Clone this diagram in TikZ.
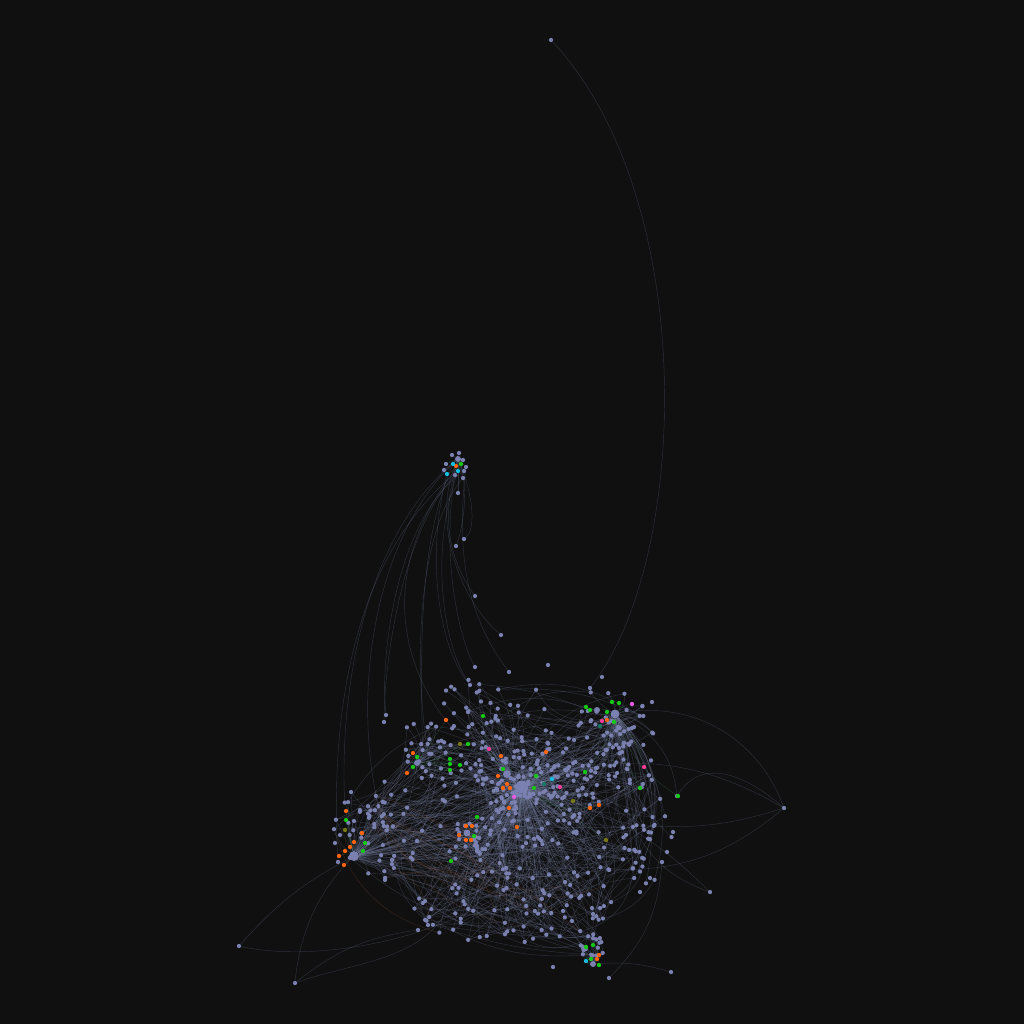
\documentclass[tikz,border=0pt]{standalone}
\usetikzlibrary{calc}
\definecolor{bgc}{RGB}{16,16,16}
\definecolor{nd}{RGB}{122,128,176}
\definecolor{ndor}{RGB}{255,100,10}
\definecolor{ndgr}{RGB}{20,200,20}
\definecolor{ndpk}{RGB}{240,60,150}
\definecolor{ndvi}{RGB}{230,90,230}
\definecolor{ndcy}{RGB}{20,190,225}
\definecolor{ndol}{RGB}{120,120,20}
\definecolor{ndtl}{RGB}{20,120,100}
\definecolor{ed}{RGB}{115,125,160}
\definecolor{edg}{RGB}{60,130,80}
\definecolor{edb}{RGB}{150,90,60}
\pgfdeclarelayer{backg}
\pgfdeclarelayer{edges}
\pgfsetlayers{backg,edges,main}
\tikzset{
  dot/.style={circle,fill=nd,draw=none,inner sep=0pt,minimum size=4.3pt},
  hub/.style={circle,fill=nd,draw=none,inner sep=0pt},
  edge/.style={draw=ed,line width=0.45pt,opacity=0.3},
  edgeg/.style={draw=edg,line width=0.45pt,opacity=0.35},
  edgeb/.style={draw=edb,line width=0.45pt,opacity=0.28}
}
\newcommand\mkclu[7]{%
  \foreach \i in {1,...,#6}{%
    \pgfmathsetmacro\rr{rnd^#7}%
    \pgfmathsetmacro\aa{360*rnd}%
    \node[dot] (#1\i) at ({#2+#4*\rr*cos(\aa)},{#3+#5*\rr*sin(\aa)}) {};
  }}
\newcommand\hubedges[4]{%
  \foreach \i in {1,...,#2}{%
    \pgfmathtruncatemacro\bb{rand*#4}%
    \draw[edge] (#1\i) to[bend left=\bb] (#3);
  }}
\newcommand\crossedges[6]{%
  \foreach \k in {1,...,#5}{%
    \pgfmathtruncatemacro\ii{1+rnd*(#2-0.01)}%
    \pgfmathtruncatemacro\jj{1+rnd*(#4-0.01)}%
    \pgfmathtruncatemacro\bb{rand*#6}%
    \draw[edge] (#1\ii) to[bend left=\bb] (#3\jj);
  }}
\begin{document}
\begin{tikzpicture}[x=1pt,y=-1pt]
\begin{pgfonlayer}{backg}
\fill[bgc] (0,0) rectangle (1024,1024);
\end{pgfonlayer}
\useasboundingbox (0,0) rectangle (1024,1024);

% hubs
\node[hub,minimum size=13pt] (hA) at (522,787) {};
\node[hub,minimum size=8pt] (hA2) at (507,774) {};
\node[hub,minimum size=9pt] (hB) at (615,714) {};
\node[hub,minimum size=6pt] (hB2) at (597,710) {};
\node[hub,minimum size=10pt] (hC) at (354,856) {};
\node[hub,minimum size=7pt] (hD) at (467,833) {};
\node[hub,minimum size=6pt] (hE) at (593,964) {};
\node[hub,minimum size=6pt] (hF) at (458,459) {};
\node[hub,minimum size=6pt] (hG) at (417,763) {};

% random clusters
\pgfmathsetseed{4242}
\mkclu{A}{525}{792}{72}{58}{150}{0.75}
\mkclu{W}{545}{805}{118}{78}{90}{0.5}
\mkclu{T}{492}{708}{55}{32}{35}{0.5}
\mkclu{B}{612}{738}{45}{52}{70}{0.7}
\mkclu{C}{378}{828}{45}{52}{55}{0.6}
\mkclu{G}{430}{748}{30}{35}{30}{0.6}
\mkclu{D}{468}{842}{26}{20}{20}{0.6}
\mkclu{L}{510}{905}{112}{40}{80}{0.5}
\mkclu{R}{645}{832}{28}{55}{28}{0.5}
\mkclu{E}{592}{948}{12}{14}{18}{0.5}

% explicit gray nodes
\foreach \x/\y [count=\n] in {551/40,784/808,239/946,295/983,710/892,671/972,677/796,501/635,475/596,464/539,456/546,458/493,609/978,
  459/453,452/455,446/464,444/470,463/460,466/467,464/471,455/475,463/478,
  475/667,509/672,548/665,470/685,386/715,384/722,590/688,602/677,652/702,
  553/967,572/921,563/911,592/908,600/908,593/914,673/832,667/852,662/862,650/878,640/892,418/930,428/925,392/860,385/880,338/862,335/843,340/835}
  \node[dot] (X\n) at (\x,\y) {};

% coloured nodes
\foreach \x/\y/\c/\h [count=\n] in {446/720/ndor/hG,483/716/ndgr/hA2,460/744/ndol/hG,468/744/ndgr/hG,489/749/ndpk/hA2,
  501/756/ndor/hA2,546/752/ndor/hA,450/759/ndgr/hG,450/764/ndgr/hG,450/770/ndgr/hG,460/765/ndgr/hG,
  503/769/ndgr/hA2,498/776/ndor/hA2,507/784/ndor/hA,503/788/ndor/hA,510/788/ndor/hA,536/776/ndgr/hA,
  534/788/ndgr/hA,544/784/ndtl/hA,552/779/ndcy/hA,560/787/ndpk/hA,514/797/ndvi/hA,509/808/ndor/hA,
  517/827/ndor/hA,573/801/ndol/hA,590/808/ndor/hA,599/805/ndor/hA,585/772/ndgr/hB,644/767/ndpk/hB,
  640/788/ndgr/hB,678/796/ndgr/hB,606/840/ndol/hA,477/817/ndgr/hD,466/826/ndor/hD,472/826/ndor/hD,
  459/835/ndor/hD,466/840/ndor/hD,471/840/ndor/hD,474/836/ndgr/hD,451/861/ndgr/hD,
  612/702/ndgr/hB,619/703/ndgr/hB,632/704/ndvi/hB,586/707/ndgr/hB2,590/710/ndgr/hB2,607/712/ndgr/hB,
  602/721/ndpk/hB,607/720/ndor/hB,614/722/ndgr/hB,600/726/ndtl/hB,
  346/811/ndor/hC,346/820/ndgr/hC,345/830/ndol/hC,362/833/ndor/hC,354/842/ndor/hC,365/843/ndgr/hC,
  350/847/ndor/hC,345/851/ndor/hC,363/851/ndgr/hC,339/856/ndor/hC,344/865/ndor/hC,
  413/753/ndor/hG,417/757/ndgr/hG,413/767/ndgr/hG,407/773/ndor/hG,
  456/466/ndor/hF,461/464/ndgr/hF,453/464/ndcy/hF,458/471/ndcy/hF,447/474/ndcy/hF,
  586/947/ndgr/hE,593/945/ndgr/hE,599/955/ndor/hE,597/959/ndor/hE,591/959/ndgr/hE,586/961/ndcy/hE,599/965/ndgr/hE}
  \node[dot,fill=\c] (K\n) at (\x,\y) {};

\begin{pgfonlayer}{edges}
% coloured node edges
\foreach \x/\y/\c/\h [count=\n] in {446/720/ndor/hG,483/716/ndgr/hA2,460/744/ndol/hG,468/744/ndgr/hG,489/749/ndpk/hA2,
  501/756/ndor/hA2,546/752/ndor/hA,450/759/ndgr/hG,450/764/ndgr/hG,450/770/ndgr/hG,460/765/ndgr/hG,
  503/769/ndgr/hA2,498/776/ndor/hA2,507/784/ndor/hA,503/788/ndor/hA,510/788/ndor/hA,536/776/ndgr/hA,
  534/788/ndgr/hA,544/784/ndtl/hA,552/779/ndcy/hA,560/787/ndpk/hA,514/797/ndvi/hA,509/808/ndor/hA,
  517/827/ndor/hA,573/801/ndol/hA,590/808/ndor/hA,599/805/ndor/hA,585/772/ndgr/hB,644/767/ndpk/hB,
  640/788/ndgr/hB,678/796/ndgr/hB,606/840/ndol/hA,477/817/ndgr/hD,466/826/ndor/hD,472/826/ndor/hD,
  459/835/ndor/hD,466/840/ndor/hD,471/840/ndor/hD,474/836/ndgr/hD,451/861/ndgr/hD,
  612/702/ndgr/hB,619/703/ndgr/hB,632/704/ndvi/hB,586/707/ndgr/hB2,590/710/ndgr/hB2,607/712/ndgr/hB,
  602/721/ndpk/hB,607/720/ndor/hB,614/722/ndgr/hB,600/726/ndtl/hB,
  346/811/ndor/hC,346/820/ndgr/hC,345/830/ndol/hC,362/833/ndor/hC,354/842/ndor/hC,365/843/ndgr/hC,
  350/847/ndor/hC,345/851/ndor/hC,363/851/ndgr/hC,339/856/ndor/hC,344/865/ndor/hC,
  413/753/ndor/hG,417/757/ndgr/hG,413/767/ndgr/hG,407/773/ndor/hG,
  456/466/ndor/hF,461/464/ndgr/hF,453/464/ndcy/hF,458/471/ndcy/hF,447/474/ndcy/hF,
  586/947/ndgr/hE,593/945/ndgr/hE,599/955/ndor/hE,597/959/ndor/hE,591/959/ndgr/hE,586/961/ndcy/hE,599/965/ndgr/hE}
  {\pgfmathtruncatemacro\bb{rand*30}\draw[edgeg] (K\n) to[bend left=\bb] (\h);}

% hub edges
\hubedges{A}{150}{hA}{25}
\hubedges{W}{90}{hA}{35}
\hubedges{T}{35}{hA2}{30}
\hubedges{B}{70}{hB}{30}
\hubedges{C}{55}{hC}{30}
\hubedges{G}{30}{hG}{30}
\hubedges{D}{20}{hD}{30}
\hubedges{L}{80}{hA}{30}
\hubedges{R}{28}{hB}{35}
\hubedges{E}{18}{hE}{40}

% cross edges
\crossedges{A}{150}{W}{90}{90}{35}
\crossedges{A}{150}{B}{70}{40}{30}
\crossedges{C}{55}{L}{80}{45}{30}
\crossedges{C}{55}{W}{90}{45}{25}
\crossedges{L}{80}{W}{90}{60}{40}
\crossedges{G}{30}{A}{150}{35}{30}
\crossedges{T}{35}{B}{70}{20}{35}
\crossedges{R}{28}{L}{80}{20}{40}
\crossedges{E}{18}{L}{80}{25}{40}
\crossedges{D}{20}{W}{90}{30}{30}
\crossedges{C}{55}{G}{30}{25}{30}
\foreach \i in {1,...,40}{\pgfmathtruncatemacro\jj{1+rnd*89.99}\pgfmathtruncatemacro\bb{rand*30}\draw[edge] (hC) to[bend left=\bb] (W\jj);}
\foreach \i in {1,...,14}{\pgfmathtruncatemacro\jj{1+rnd*79.99}\pgfmathtruncatemacro\bb{rand*40}\draw[edgeb] (C\i) to[bend left=\bb] (L\jj);}

% long edges
\draw[edge] (X1) .. controls (700,200) and (690,560) .. (X29);
\draw[edge] (X2) to[bend right=40] (hB);
\draw[edge] (X2) to[bend right=25] (hA);
\draw[edge] (X2) to[bend left=10] (R5);
\draw[edge] (X2) to[bend left=20] (W12);
\draw[edge] (X2) .. controls (740,770) and (700,760) .. (X7);
\draw[edge] (X3) to[bend left=10] (hC);
\draw[edge] (X3) .. controls (300,960) and (420,950) .. (L3);
\draw[edge] (X4) .. controls (300,930) and (320,890) .. (hC);
\draw[edge] (X4) .. controls (360,960) and (440,960) .. (L8);
\draw[edge] (X4) to[bend left=15] (X43);
\draw[edge] (X5) to[bend right=15] (hA);
\draw[edge] (X5) to[bend left=20] (R10);
\draw[edge] (X6) to[bend right=10] (hE);
\draw[edge] (X13) to[bend right=20] (X40);
\draw[edge] (X7) to[bend right=30] (hB);
% top cluster F
\foreach \n in {14,15,16,17,18,19,20,21,22} \draw[edge] (X\n) -- (hF);
\draw[edge] (hF) .. controls (430,520) and (460,600) .. (X8);
\draw[edge] (hF) .. controls (440,520) and (450,560) .. (X9);
\draw[edge] (hF) .. controls (475,500) and (475,530) .. (X10);
\draw[edge] (hF) .. controls (470,490) and (462,530) .. (X11);
\draw[edge] (hF) -- (X12);
\draw[edge] (hF) .. controls (360,540) and (340,700) .. (C40);
\draw[edge] (hF) .. controls (380,530) and (350,680) .. (C12);
\draw[edge] (X20) .. controls (395,520) and (380,660) .. (X27);
\draw[edge] (X21) .. controls (405,530) and (385,650) .. (X28);
\draw[edge] (X22) .. controls (420,530) and (410,660) .. (G5);
\draw[edge] (K68) .. controls (420,540) and (420,640) .. (G11);
\draw[edge] (K67) .. controls (430,540) and (440,640) .. (X26);
\draw[edge] (K66) .. controls (440,560) and (460,640) .. (X23);
\draw[edge] (K70) .. controls (425,560) and (440,650) .. (X26);
\draw[edge] (X19) .. controls (455,560) and (470,620) .. (X24);
\draw[edge] (X18) .. controls (380,560) and (395,660) .. (T9);
\draw[edge] (K69) .. controls (350,560) and (330,720) .. (X47);
\end{pgfonlayer}
\end{tikzpicture}
\end{document}
